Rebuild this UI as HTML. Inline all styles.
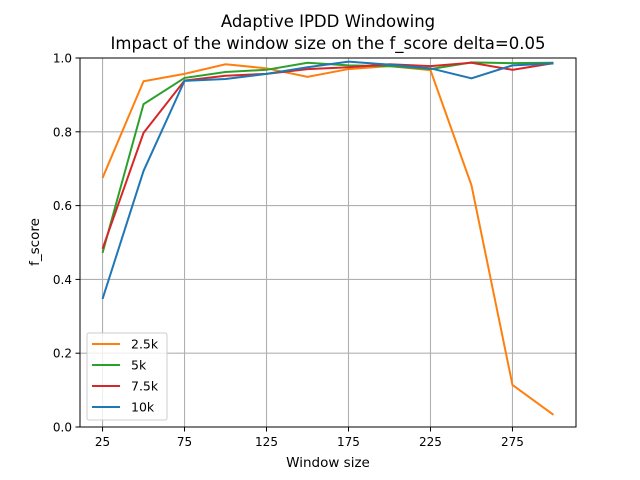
<!DOCTYPE html>
<html><head><meta charset="utf-8"><style>
body{margin:0;background:#fff}
svg{display:block;font-family:"DejaVu Sans","Liberation Sans",sans-serif}
</style></head><body>
<svg id="chart" width="640" height="480">
<rect width="640" height="480" fill="#fff"/>
<text x="328" y="27" text-anchor="middle" font-size="16.5">Adaptive IPDD Windowing</text>
<text x="328" y="49" text-anchor="middle" font-size="16.5">Impact of the window size on the f_score delta=0.05</text>
<g id="grid"></g><g id="series"></g><g id="axes"></g>
<text x="328" y="467" text-anchor="middle" font-size="13.5">Window size</text>
<text transform="translate(39,242) rotate(-90)" text-anchor="middle" font-size="13.5">f_score</text>
<g id="legend"></g>
</svg>
<script>
const windowSizes=[25,50,75,100,125,150,175,200,225,250,275,300];
const s25=[0.675,0.937,0.957,0.983,0.972,0.949,0.970,0.978,0.967,0.655,0.114,0.033];
const s5=[0.472,0.875,0.946,0.962,0.968,0.987,0.980,0.978,0.970,0.988,0.986,0.987];
const s75=[0.483,0.797,0.939,0.952,0.957,0.970,0.975,0.983,0.978,0.987,0.968,0.986];
const s10=[0.347,0.694,0.938,0.943,0.957,0.975,0.990,0.982,0.972,0.945,0.980,0.985];
const seriesNames=["2.5k","5k","7.5k","10k"];
const xTicks=[25,75,125,175,225,275];
const yTicks=[0,0.2,0.4,0.6,0.8,1.0];
const colors=["#ff7f0e","#2ca02c","#d62728","#1f77b4"];
const L=80,R=576,T=58,B=427;
const x0=11.25,x1=313.75;
const X=v=>L+(v-x0)/(x1-x0)*(R-L);
const Y=v=>B-v*(B-T);
const NS="http://www.w3.org/2000/svg";
function mk(t,a,p){const e=document.createElementNS(NS,t);for(const k in a)e.setAttribute(k,a[k]);p.appendChild(e);return e;}
const grid=document.getElementById('grid'),axes=document.getElementById('axes'),ser=document.getElementById('series'),leg=document.getElementById('legend');
xTicks.forEach(v=>{
const g=mk('line',{x1:X(v),x2:X(v),y1:T,y2:B,stroke:'#b0b0b0','stroke-width':1.1},grid);


const t=mk('line',{x1:X(v),x2:X(v),y1:B,y2:B+4.5,stroke:'#000','stroke-width':1},axes);


const l=mk('text',{x:X(v),y:B+19,'text-anchor':'middle','font-size':12},axes);l.textContent=v;


});
yTicks.forEach(v=>{
const g=mk('line',{x1:L,x2:R,y1:Y(v),y2:Y(v),stroke:'#b0b0b0','stroke-width':1.1},grid);


const t=mk('line',{x1:L-4.5,x2:L,y1:Y(v),y2:Y(v),stroke:'#000','stroke-width':1},axes);


const l=mk('text',{x:L-8,y:Y(v)+4.5,'text-anchor':'end','font-size':12},axes);l.textContent=v.toFixed(1);


});
const frame=mk('rect',{x:L,y:T,width:R-L,height:B-T,fill:'none',stroke:'#000','stroke-width':1},axes);


[s25,s5,s75,s10].forEach((s,i)=>{
const p=mk('polyline',{points:s.map((v,j)=>X(windowSizes[j])+','+Y(v)).join(' '),fill:'none',stroke:colors[i],'stroke-width':2},ser);


});
const box=mk('rect',{x:87,y:333,width:80,height:87,fill:'#fff','fill-opacity':0.8,stroke:'#ccc',rx:2},leg);


seriesNames.forEach((n,i)=>{
const y=344+i*21;
const g=mk('g',{},leg);


mk('line',{x1:92,x2:120,y1:y,y2:y,stroke:colors[i],'stroke-width':2},g);
const t=mk('text',{x:131,y:y+4.5,'font-size':12.5},g);t.textContent=n;
});
</script>
</body></html>
